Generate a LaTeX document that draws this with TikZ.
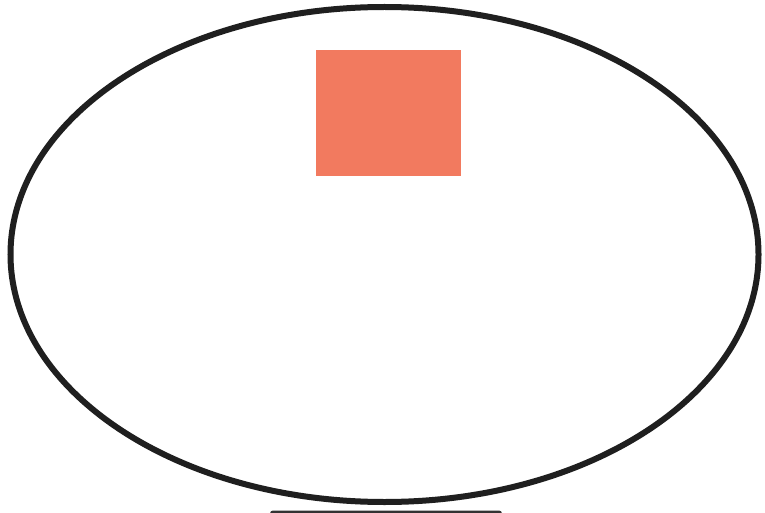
\documentclass[tikz,border=0pt]{standalone}
\usetikzlibrary{shapes.geometric}
\begin{document}
\begin{tikzpicture}[x=1pt,y=-1pt,
  outline/.style={draw=black!88,line width=6pt},
  patch/.style={fill={rgb,255:red,242;green,122;blue,95},draw=none},
  bar/.style={fill=black!80,draw=none,rounded corners=3pt}]
\clip (0,0) rectangle (765,513);
\fill[white] (0,0) rectangle (765,513);
\node[outline,ellipse,minimum width=748pt,minimum height=495pt,inner sep=0pt] (oval) at (384.5,254.5) {};
\node[patch,minimum width=145pt,minimum height=126pt,inner sep=0pt] (sq) at (388.5,113) {};
\fill[bar] (270,510.5) rectangle (502,530);
\end{tikzpicture}
\end{document}
